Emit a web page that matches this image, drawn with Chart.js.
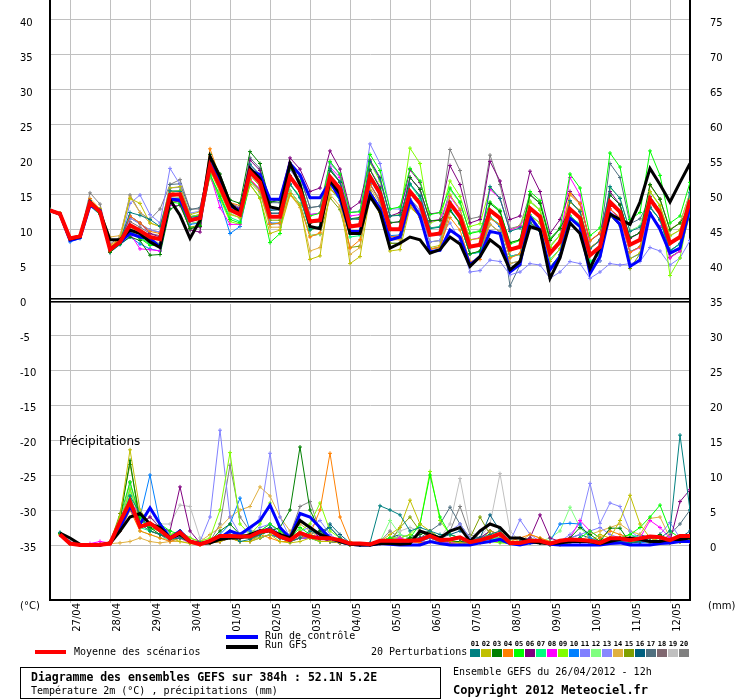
<!DOCTYPE html>
<html><head><meta charset="utf-8">
<script src="https://cdn.jsdelivr.net/npm/chart.js@4/dist/chart.umd.min.js"></script>
<style>html,body{margin:0;padding:0;background:#fff;}#wrap{position:relative;width:740px;height:700px;}canvas{display:block;}</style>
</head><body><div id="wrap"><canvas id="c" width="740" height="700"></canvas></div>
<script>
// ---------- DATA ----------
const HOURS = [0,6,12,18,24,30,36,42,48,54,60,66,72,78,84,90,96,102,108,114,120,126,132,138,144,150,156,162,168,174,180,186,192,198,204,210,216,222,228,234,240,246,252,258,264,270,276,282,288,294,300,306,312,318,324,330,336,342,348,354,360,366,372,378,384];
const DATE_TICK_HOURS = [12,36,60,84,108,132,156,180,204,228,252,276,300,324,348,372];
const DATE_LABELS = ['27/04','28/04','29/04','30/04','01/05','02/05','03/05','04/05','05/05','06/05','07/05','08/05','09/05','10/05','11/05','12/05'];
const TEMP_TICKS = [-35,-30,-25,-20,-15,-10,-5,0,5,10,15,20,25,30,35,40];
const MM_TICKS = [0,5,10,15,20,25,30,35,40,45,50,55,60,65,70,75];
const PERT_NAMES = ['01','02','03','04','05','06','07','08','09','10','11','12','13','14','15','16','17','18','19','20'];
const PERT_COLORS = ['#008080','#c0c000','#008000','#ff8000','#00ff00','#800080','#00ff80','#ff00ff','#80ff00','#0080ff','#8080ff','#80ff80','#8888ff','#e0b040','#80a000','#006080','#507080','#806870','#c0c0c0','#808080'];

// Temperature 2m (°C), every 6 h from 26/04 12h
const T_MEAN = [12.8,12.3,8.8,9.1, 13.9,12.6,7.2,8.3, 10.7,9.9,9.0,8.7, 15.0,15.1,11.4,11.7, 19.2,16.2,12.9,12.2, 18.3,16.8,11.9,11.9, 17.6,15.7,11.2,11.4, 17.6,15.9,10.5,10.7, 17.6,15.2,10.1,10.1, 15.5,13.8,9.3,9.5, 13.8,11.9,7.6,7.9, 12.8,11.7,7.2,7.6, 13.1,11.9,6.7,8.3, 13.0,11.7,6.4,7.6, 14.0,12.6,7.9,8.6, 14.4,12.4,8.1,9.0, 14.3];
const T_CTRL = [12.8,12.3,8.5,8.9, 13.5,12.8,7.3,8.2, 9.5,9.0,8.8,7.6, 14.4,14.3,11.3,11.8, 19.5,17.0,13.5,12.7, 18.5,17.9,14.4,14.4, 19.5,17.9,14.6,14.6, 16.9,14.5,9.8,9.8, 15.2,13.1,8.6,9.0, 14.3,12.0,6.9,7.1, 10.0,9.0,5.0,6.2, 9.8,9.5,4.0,5.1, 11.9,10.0,4.3,6.2, 11.7,10.5,3.8,6.2, 12.4,10.8,4.8,5.7, 12.4,10.1,6.7,7.4, 13.3];
const T_GFS = [12.8,12.3,8.7,9.0, 14.0,12.5,8.6,8.6, 10.0,9.5,8.3,7.5, 14.3,12.1,8.8,11.4, 20.5,17.6,13.8,12.4, 18.8,17.3,13.3,13.0, 19.5,16.5,10.5,10.2, 17.1,15.2,9.5,9.5, 14.8,12.6,7.4,8.1, 9.0,8.6,6.7,7.2, 9.0,8.0,4.8,6.2, 8.6,7.5,4.3,5.5, 10.5,10.0,3.1,6.0, 11.0,9.5,4.5,7.5, 12.3,11.5,10.8,14.0, 18.8,16.5,14.0,16.8, 19.5];
const T_P01 = [12.9,12.3,8.7,9.1, 14.2,12.8,7.4,8.5, 12.5,12.1,11.5,10.5, 15.6,15.5,11.8,12.0, 19.8,16.6,13.3,12.6, 19.4,17.9,12.8,12.9, 16.5,14.6,10.0,10.5, 18.8,16.9,11.6,11.5, 19.8,17.3,12.0,12.1, 16.6,14.9,10.2,10.4, 14.0,12.0,7.5,7.8, 16.2,14.5,9.8,10.3, 11.0,9.8,4.6,6.5, 14.2,12.6,7.3,8.5, 16.2,14.5,9.8,10.4, 13.2,11.5,7.0,8.1, 15.4];
const T_P02 = [12.8,12.4,9.0,9.2, 14.0,13.0,7.6,8.7, 14.5,13.8,11.0,10.5, 16.0,16.2,12.2,12.6, 18.5,15.4,12.2,11.8, 16.5,14.5,9.5,10.0, 15.0,13.5,5.8,6.3, 15.8,14.5,5.2,6.2, 14.8,12.5,7.0,7.2, 13.2,12.0,7.5,7.8, 15.0,13.0,8.6,8.8, 12.5,11.5,7.0,7.5, 12.0,11.0,5.5,7.3, 14.0,12.8,7.5,8.5, 12.0,10.8,5.9,6.7, 15.5,13.5,9.2,10.0, 14.5];
const T_P03 = [12.9,12.2,8.8,9.0, 13.6,12.3,6.8,8.0, 9.0,8.5,6.4,6.5, 13.0,13.6,10.2,10.5, 20.8,18.0,14.3,13.8, 21.2,19.5,14.0,14.2, 17.8,15.5,11.0,11.2, 18.5,16.8,11.6,11.8, 18.6,16.0,11.0,11.2, 17.5,15.8,11.3,11.4, 12.8,11.0,6.6,7.0, 13.8,12.6,8.2,8.6, 15.0,13.8,8.5,10.2, 13.0,11.6,6.4,7.5, 15.0,13.6,8.9,9.6, 16.5,14.4,10.0,11.0, 13.3];
const T_P04 = [12.8,12.4,8.9,9.1, 14.5,13.0,7.8,8.8, 12.0,11.0,9.8,9.5, 15.5,15.0,11.2,11.6, 21.6,17.5,13.9,13.5, 17.2,15.6,10.8,11.0, 15.2,13.5,9.0,9.6, 16.0,14.5,7.4,8.6, 16.5,14.2,9.0,9.2, 13.5,12.0,7.2,7.6, 11.8,10.0,5.5,5.8, 11.6,10.8,6.0,6.6, 13.0,12.0,6.8,8.4, 15.2,13.8,8.5,9.6, 13.0,11.8,6.8,7.6, 14.6,12.8,8.0,8.8, 14.5];
const T_P05 = [12.8,12.2,8.6,9.0, 13.6,12.3,7.0,8.1, 9.5,8.8,7.8,7.8, 14.0,13.8,10.2,10.6, 18.0,14.8,11.5,11.0, 16.5,14.6,8.2,9.5, 18.8,17.0,12.0,12.4, 19.8,18.0,12.5,12.6, 20.8,18.5,13.0,13.3, 18.8,17.0,12.2,12.5, 16.0,14.0,9.5,9.8, 14.0,12.8,8.0,8.5, 15.5,14.2,8.8,10.2, 18.0,16.0,9.2,10.3, 21.0,19.0,11.5,12.5, 21.3,17.8,11.0,12.0, 16.8];
const T_P06 = [12.8,12.3,8.8,9.1, 13.8,12.6,7.4,8.3, 12.0,11.0,9.5,9.0, 14.3,14.0,10.0,9.7, 20.2,17.2,13.8,13.0, 20.0,18.5,14.0,14.5, 20.3,18.7,15.5,16.0, 21.3,18.7,13.0,14.0, 20.0,17.5,12.0,12.5, 18.6,16.8,12.3,12.5, 19.2,16.5,11.0,11.5, 19.8,17.0,11.5,12.0, 18.4,15.5,9.5,11.5, 15.5,13.8,8.5,9.5, 15.5,13.6,8.8,9.6, 14.8,12.8,8.2,9.0, 13.2];
const T_P07 = [12.7,12.3,8.8,9.0, 13.5,12.2,6.9,8.0, 9.8,9.0,8.0,7.6, 14.8,15.0,11.5,11.8, 17.8,15.0,11.8,11.2, 17.0,15.5,10.8,11.0, 16.5,14.8,10.2,10.5, 16.0,14.2,9.0,9.2, 17.2,15.0,10.0,10.2, 16.5,14.5,10.2,10.5, 12.8,11.0,6.6,6.9, 11.8,10.8,6.2,6.5, 12.2,11.0,5.8,7.3, 12.0,10.8,5.5,6.6, 14.0,12.5,7.8,8.6, 13.2,11.5,7.0,8.0, 13.2];
const T_P08 = [12.8,12.3,8.8,9.1, 13.8,12.6,7.0,8.2, 9.5,7.3,7.2,7.0, 13.5,13.5,10.2,10.4, 18.0,13.2,10.8,10.8, 17.3,15.8,10.9,10.9, 18.8,16.8,12.2,12.4, 19.0,17.5,12.0,12.2, 18.6,16.2,11.0,11.2, 17.5,15.8,11.2,11.5, 14.8,12.8,8.6,8.9, 15.8,14.5,10.0,10.5, 13.1,12.0,6.8,8.5, 17.5,15.0,7.5,8.4, 13.0,11.5,6.8,7.5, 12.4,10.5,6.0,7.0, 14.0];
const T_P09 = [12.9,12.3,8.8,9.2, 14.1,12.9,7.5,8.6, 10.5,9.5,8.5,8.0, 15.5,15.6,11.9,12.2, 17.5,14.5,11.2,10.8, 18.3,16.8,11.9,11.9, 16.5,14.8,10.0,10.4, 17.6,15.9,10.5,10.8, 19.6,17.0,12.0,12.2, 21.7,19.5,11.0,11.5, 17.0,14.8,10.5,10.9, 16.0,14.5,10.0,10.6, 14.0,12.8,7.5,9.3, 12.0,10.8,5.5,6.6, 14.0,12.6,7.9,8.6, 15.5,13.5,3.5,6.0, 13.3];
const T_P10 = [12.6,12.1,8.3,8.8, 13.4,12.2,6.8,7.9, 9.0,8.0,7.3,7.0, 14.5,14.0,10.8,11.0, 18.0,14.2,9.5,10.5, 17.0,15.8,11.0,11.0, 17.6,15.7,11.0,11.4, 17.6,15.8,10.5,10.7, 16.6,14.0,9.2,9.3, 15.5,13.8,9.3,9.5, 13.0,11.0,6.6,6.8, 11.8,10.5,6.2,6.5, 13.0,12.0,6.6,8.3, 12.0,10.8,5.4,6.5, 12.0,10.8,5.9,6.6, 13.2,11.5,7.0,8.0, 12.3];
const T_P11 = [12.8,12.3,8.6,9.0, 13.8,12.8,7.0,8.0, 13.8,15.0,12.2,11.0, 18.8,16.5,11.5,12.2, 20.0,16.5,13.0,12.5, 18.3,16.8,11.9,12.0, 17.6,15.7,11.2,11.4, 19.6,17.9,12.5,12.7, 22.3,19.5,13.0,13.0, 17.5,15.8,9.3,9.3, 11.0,8.5,4.0,4.2, 5.7,5.5,3.6,4.0, 5.2,5.0,3.1,4.0, 5.5,5.2,3.1,4.0, 5.2,5.0,5.2,5.5, 7.5,7.0,5.0,6.0, 8.5];
const T_P12 = [12.8,12.2,8.8,9.0, 13.7,12.4,7.0,8.1, 10.7,9.9,9.0,8.7, 14.5,14.6,10.9,11.2, 18.7,15.7,12.4,11.7, 17.3,15.8,10.9,10.9, 15.6,13.7,9.2,9.4, 17.6,15.9,10.5,10.7, 18.6,16.2,11.1,11.1, 15.5,13.8,9.3,9.5, 15.8,13.9,9.6,9.9, 13.8,12.7,8.2,8.6, 14.1,12.9,7.7,9.3, 13.0,11.7,6.4,7.6, 16.0,14.6,9.9,10.6, 15.4,13.4,9.1,10.0, 15.3];
const T_P13 = [12.8,12.4,8.9,9.2, 14.1,12.8,7.4,8.5, 11.7,10.9,10.0,9.7, 16.0,16.1,12.4,12.7, 19.7,16.7,13.4,12.7, 19.3,17.8,12.9,12.9, 18.6,16.7,12.2,12.4, 17.6,15.9,10.5,10.7, 16.6,14.2,9.1,9.1, 14.5,12.8,8.3,8.5, 13.8,11.9,7.6,7.9, 11.8,10.7,6.2,6.6, 13.1,11.9,6.7,8.3, 11.0,9.7,4.4,5.6, 15.0,13.6,8.9,9.6, 14.4,12.4,8.1,9.0, 15.3];
const T_P14 = [12.8,12.4,8.9,9.3, 14.2,13.0,9.0,9.2, 14.7,12.5,11.0,10.5, 15.0,15.2,11.5,11.5, 18.7,15.7,12.4,11.7, 16.8,15.3,10.4,10.4, 15.1,13.2,7.0,7.5, 15.1,13.4,6.5,7.5, 16.1,13.7,8.6,8.6, 13.5,11.8,7.3,7.5, 12.8,10.9,6.6,6.9, 10.8,9.7,5.2,5.6, 14.1,12.9,7.7,9.3, 15.0,13.7,8.4,9.6, 14.0,12.6,7.9,8.6, 16.4,14.4,10.1,11.0, 15.3];
const T_P15 = [12.8,12.2,8.7,9.0, 13.7,12.4,7.0,8.1, 9.7,8.9,8.0,7.7, 14.0,14.1,10.4,10.7, 19.2,16.2,12.9,12.2, 17.8,16.3,11.4,11.4, 15.6,13.7,9.2,9.4, 14.6,12.9,7.5,7.7, 15.6,13.2,8.1,8.1, 14.5,12.8,8.3,8.5, 12.8,10.9,6.6,6.9, 11.8,10.7,6.2,6.6, 11.1,9.9,4.7,6.3, 12.0,10.7,5.4,6.6, 12.0,10.6,4.5,6.6, 12.4,10.4,6.1,7.0, 12.3];
const T_P16 = [12.8,12.3,8.8,9.1, 13.9,12.6,7.2,8.3, 10.7,9.9,9.0,8.7, 15.5,15.6,11.9,12.2, 19.2,16.2,12.9,12.2, 18.8,17.3,12.4,12.4, 16.6,14.7,10.2,10.4, 16.6,14.9,9.5,9.7, 15.6,13.2,8.1,8.1, 13.5,11.8,7.3,7.5, 12.8,10.9,6.6,6.9, 10.8,9.7,5.2,5.6, 11.1,9.9,4.7,6.3, 11.0,9.7,4.4,5.6, 13.0,11.6,6.9,7.6, 12.4,10.4,6.1,7.0, 14.3];
const T_P17 = [12.8,12.4,8.9,9.2, 14.1,12.8,7.4,8.5, 11.7,10.9,10.0,9.7, 16.5,16.6,12.9,13.2, 19.7,16.7,13.4,12.7, 20.3,18.8,13.9,13.9, 19.6,17.7,13.2,13.4, 18.6,16.9,11.5,11.7, 17.6,15.2,10.1,10.1, 16.5,14.8,10.3,10.5, 15.8,13.9,9.6,9.9, 12.8,11.7,2.0,5.0, 14.1,12.9,7.7,9.3, 14.0,12.7,7.4,8.6, 19.5,17.5,10.9,11.6, 14.4,12.4,8.1,9.0, 15.3];
const T_P18 = [12.8,12.2,8.8,9.0, 13.6,12.3,6.9,8.0, 11.2,10.4,9.5,9.2, 14.5,14.6,10.9,11.2, 19.2,16.2,12.9,12.2, 18.8,17.3,12.4,12.4, 15.6,13.7,9.2,9.4, 17.6,15.9,10.5,10.7, 16.6,14.2,9.1,9.1, 13.5,11.8,7.3,7.5, 12.8,10.9,6.6,6.9, 11.8,10.7,6.2,6.6, 11.1,9.9,4.7,6.3, 12.0,10.7,5.4,6.6, 14.0,12.6,7.9,8.6, 13.4,11.4,7.1,8.0, 14.3];
const T_P19 = [12.8,12.3,8.8,9.1, 14.2,12.9,7.5,8.6, 10.2,9.4,8.5,8.2, 15.0,15.1,11.4,11.7, 19.7,16.7,13.4,12.7, 19.3,17.8,12.9,12.9, 18.6,16.7,12.2,12.4, 17.6,15.9,10.5,10.7, 17.6,15.2,10.1,10.1, 14.5,12.8,8.3,8.5, 13.8,11.9,7.6,7.9, 11.8,10.7,6.2,6.6, 13.1,11.9,6.7,8.3, 13.0,11.7,6.4,7.6, 15.0,13.6,8.9,9.6, 14.4,12.4,8.1,9.0, 14.3];
const T_P20 = [12.9,12.4,8.9,9.2, 15.3,13.7,8.0,9.0, 15.0,12.5,11.5,13.0, 16.5,17.2,13.0,13.0, 20.2,17.2,13.9,13.2, 19.3,17.8,12.9,12.9, 19.6,17.7,13.2,13.4, 19.6,17.9,12.5,12.7, 18.6,16.2,11.1,11.1, 17.5,15.8,11.3,11.5, 21.5,18.5,11.6,11.9, 20.7,16.5,10.2,10.6, 15.1,13.9,8.7,10.3, 14.0,12.7,7.4,8.6, 14.0,12.6,7.9,8.6, 16.4,14.4,10.1,11.0, 15.3];

// Precipitation (mm per 6 h), from 26/04 18h
const P_MEAN = [1.5,0.2,0,0,0.05,0.2,3.3,6.2,2.6,3.1, 2.1,0.95,1.8,0.5,0.1,0.6,1.3,1.3,1.2,1.2, 1.9,2.1,1.2,0.7,1.7,1.2,0.95,0.95,0.7,0.2, 0.2,0.1,0.6,0.6,0.6,0.6,0.7,1.3,0.7,0.8, 1.1,0.4,0.7,1.1,1.6,0.3,0.3,0.6,0.6,0.2, 0.6,0.8,0.7,0.6,0.3,0.95,0.95,0.7,0.95,1.2, 1.1,0.7,1.3,1.3];
const P_CTRL = [1.5,0.3,0,0,0,0.3,2.5,5.5,3,5.3, 3,1,2,0.5,0.2,0.5,1.0,2.0,1.5,2.5, 3.5,5.7,2.5,1.0,4.5,4.0,2.5,1.0,0.5,0.1, 0,0,0.2,0.1,0,0,0,0.5,0.2,0, 0,0,0.3,0.5,0.8,0.2,0,0.3,0.5,0.1, 0,0,0,0,0,0.2,0.3,0,0,0, 0.2,0.3,0.5,0.5];
const P_GFS = [1.7,1.0,0.1,0,0,0.2,2.0,4.0,4.5,3.0, 2.5,1.0,1.5,0.5,0.2,0.3,0.8,1.0,1.0,1.5, 2.0,2.0,1.5,1.0,3.5,2.5,1.5,1.0,0.5,0.1, 0,0,0.2,0.2,0.1,0.2,2.0,1.5,1.0,2.0, 2.5,0.5,2.0,3.0,2.5,1.0,1.0,0.5,0.3,0.2, 0.3,0.5,0.5,0.5,0.2,0.5,0.8,1.0,0.8,0.5, 0.5,0.8,0.8,1.0];
const P_P01 = [1.8,0.3,0,0,0,0.3,3.0,7.0,4.5,2.0, 1.5,0.8,1.0,0.5,0.3,0.5,1.0,1.5,0.5,0.8, 1.5,2.5,1.0,0.5,1.0,2.0,1.5,2.5,1.0,0.3, 0,0.3,5.6,5.0,4.3,2.0,2.5,2.0,1.5,1.5, 1.0,0.5,1.0,1.5,2.0,0.3,0.5,0.5,0.3,0, 0.2,0.5,1.0,0.5,0.3,0.5,0.5,0.3,0.5,1.0, 1.0,2.0,15.7,5.0];
const P_P02 = [1.5,0.2,0,0,0,0.5,4.0,13.6,5.0,3.0, 2.0,1.0,0.5,0.2,0,0.3,0.5,1.0,0.5,0.5, 1.0,1.5,0.5,0.3,0.5,1.0,0.5,0.5,0.3,0, 0,0,0.5,1.5,2.5,6.4,3.0,2.0,1.0,0.5, 0.3,0.3,0.5,2.0,1.5,0.5,0.3,0.5,0.3,0, 0,0.3,0.5,0.5,1.5,1.0,3.5,7.1,3.0,1.0, 0.5,0.3,0.5,1.0];
const P_P03 = [1.6,0.2,0,0,0,0.3,3.5,12.1,3.0,2.5, 1.5,1.0,2.0,0.5,0.2,0.5,2.0,3.0,1.5,1.0, 1.5,2.0,2.5,5.0,14.0,5.0,2.0,1.0,0.5,0.1, 0,0,0.3,0.5,0.5,1.0,1.5,2.0,1.0,0.5, 0.5,0.3,0.5,1.0,1.5,0.5,0.3,0.5,0.8,0.3, 0.5,1.0,2.5,1.5,0.5,2.4,2.4,0.3,0.5,1.0, 1.5,0.5,1.0,1.0];
const P_P04 = [1.5,0.2,0,0,0,0.2,2.0,5.0,2.0,1.5, 1.0,0.5,1.0,0.5,0.2,0.3,0.5,1.0,0.5,0.5, 1.5,1.0,0.5,0.5,1.0,1.5,5.0,13.1,4.0,0.5, 0.1,0,0.2,0.3,0.5,0.5,0.3,0.5,0.3,0.2, 0.3,0.1,0.3,0.5,1.0,0.5,1.0,1.5,1.0,0.5, 0.3,0.5,0.5,0.3,1.0,2.0,1.5,1.0,0.5,1.0, 0.5,0.3,0.5,0.5];
const P_P05 = [1.6,0.3,0,0,0,0.3,4.0,9.0,4.0,2.0, 3.0,2.0,1.5,0.5,0.3,0.5,1.0,2.0,1.5,1.5, 2.0,3.0,2.0,1.0,2.5,1.5,1.0,1.0,0.5,0.2, 0,0,0.5,1.0,0.5,1.0,3.0,10.0,4.0,1.5, 1.0,0.5,0.5,1.0,0.5,0.2,0.3,0.5,0.5,0.3, 0.5,0.5,1.0,2.0,1.0,0.5,1.0,1.5,2.5,4.0, 5.7,2.0,1.0,1.0];
const P_P06 = [1.5,0.3,0,0,0.1,0.2,2.0,6.0,3.0,4.0, 2.5,2.0,8.3,2.0,0.3,0.3,0.5,1.0,1.0,1.5, 2.0,2.5,1.5,1.0,3.5,2.5,1.0,0.5,0.3,0.1, 0,0,0.3,0.5,0.3,0.5,1.0,1.5,1.0,0.5, 0.5,0.3,1.0,2.0,1.5,0.5,0.5,1.0,4.3,1.0, 0.5,0.5,1.0,0.5,0.5,0.5,0.5,0.3,0.5,0.5, 0.5,0.5,6.2,7.9];
const P_P07 = [1.7,0.3,0,0,0,0.3,3.0,7.0,2.5,2.0, 3.0,1.0,1.5,0.3,0.1,0.3,1.0,2.0,1.0,1.0, 1.5,2.0,1.0,0.5,1.5,1.0,0.5,0.5,0.3,0, 0,0,0.5,1.0,0.5,0.5,1.0,1.5,0.5,0.5, 1.0,0.5,0.5,1.0,1.0,0.3,0.2,0.3,0.5,0.5, 0.3,0.5,0.5,0.3,0.3,0.5,1.0,1.5,1.0,0.5, 1.0,0.5,0.5,1.0];
const P_P08 = [1.5,0.2,0,0.2,0.5,0.3,2.5,6.0,4.5,3.0, 2.0,1.0,1.0,0.3,0.2,0.5,1.0,1.5,1.0,1.0, 1.5,2.0,1.0,0.5,1.0,1.0,1.5,1.0,0.3,0, 0,0,0.3,0.5,1.0,0.5,0.3,0.5,0.3,0.3, 0.5,0.2,0.5,0.5,0.5,0.2,0.3,0.5,0.3,0.2, 0.5,1.0,3.5,2.0,1.0,0.5,0.5,0.5,1.0,3.5, 2.5,1.0,0.5,0.5];
const P_P09 = [1.6,0.3,0,0,0,0.3,3.0,8.0,3.5,2.5, 2.0,1.5,2.0,1.0,0.5,1.0,5.0,13.2,3.0,1.5, 3.0,6.0,2.0,1.0,2.0,3.0,6.0,2.0,1.0,0.3, 0,0,0.5,1.0,1.0,1.5,3.0,10.5,3.5,1.5, 1.0,0.5,0.5,0.5,0.3,0.2,0.3,0.5,0.5,0.3, 0.5,0.5,0.5,0.5,0.3,0.5,0.5,0.5,0.5,0.5, 0.5,0.5,0.5,1.0];
const P_P10 = [1.5,0.2,0,0,0,0.2,2.0,5.0,4.0,10.0, 3.0,1.5,1.0,0.5,0.3,0.5,1.5,3.0,6.7,2.0, 1.0,1.5,1.0,0.5,1.0,1.0,0.5,0.5,0.3,0, 0,0,0.2,0.3,0.5,0.5,0.5,1.0,0.5,0.3, 0.5,0.3,0.5,0.8,0.5,0.3,0.2,0.3,0.5,0.5, 3.0,3.1,3.0,1.0,0.5,0.3,0.5,0.3,0.3,0.5, 0.5,0.3,0.5,0.5];
const P_P11 = [1.5,0.2,0,0,0,0.3,2.5,6.0,3.0,2.5, 2.0,1.0,1.5,0.5,0.5,4.0,16.4,4.0,1.5,1.0, 2.5,3.0,1.5,0.5,1.5,1.0,1.0,0.5,0.5,0.2, 0,0,0.3,0.5,0.5,1.0,1.5,2.0,0.5,0.5, 0.5,0.3,0.5,1.0,1.5,0.5,3.6,1.5,0.5,0.3, 0.5,1.0,1.5,2.0,2.5,1.5,1.0,1.0,0.5,1.0, 1.5,3.2,1.0,0.5];
const P_P12 = [1.6,0.2,0,0,0,0.3,3.0,7.5,2.0,1.5, 1.0,0.8,1.0,0.3,0.2,0.3,1.0,1.5,1.0,1.0, 1.0,2.5,1.0,0.5,1.5,1.0,0.5,0.5,0.3,0.1, 0,0,0.5,3.5,1.5,1.0,1.0,1.0,0.5,0.5, 0.5,0.3,0.5,1.0,1.0,0.5,0.5,1.0,0.5,1.0, 2.0,5.4,2.5,1.0,0.5,0.5,0.5,0.5,0.5,0.5, 0.5,0.3,0.5,0.5];
const P_P13 = [1.5,0.2,0,0,0,0.3,3.0,8.0,3.5,3.0, 2.5,1.5,1.0,0.5,0.3,0.5,1.0,1.5,1.5,2.0, 4.0,13.1,4.0,1.0,2.0,2.5,3.5,1.5,0.5,0.2, 0,0,0.5,1.0,0.5,0.5,0.5,0.5,1.0,2.0, 3.0,1.0,0.5,1.0,1.0,0.5,0.3,0.5,0.5,0.3, 0.5,1.5,3.0,8.8,3.1,6.0,5.5,2.0,1.0,1.0, 1.5,0.5,0.5,1.0];
const P_P14 = [1.4,0.2,0,0,0,0.2,0.3,0.5,1.0,0.5, 0.3,0.5,0.5,0.3,0.5,1.5,2.5,4.0,5.0,5.5, 8.3,7.0,4.0,2.0,3.0,2.0,1.0,0.5,0.5,0.2, 0,0,0.3,0.5,0.5,1.0,0.5,0.5,0.5,0.5, 0.5,0.3,0.5,1.5,2.0,1.0,0.5,1.5,1.0,0.5, 0.3,0.5,0.5,1.5,2.0,2.5,3.0,2.0,1.5,3.8, 4.0,1.0,0.5,0.5];
const P_P15 = [1.6,0.3,0,0,0,0.3,4.5,11.5,4.0,2.0, 1.5,1.0,1.5,0.5,0.2,0.3,1.0,1.5,1.0,1.0, 1.0,1.5,1.0,0.5,1.0,1.0,0.5,0.5,0.3,0, 0,0,0.3,0.5,2.5,4.0,2.0,1.0,0.5,0.5, 0.5,1.0,4.0,1.5,1.0,0.5,0.5,0.5,0.5,0.3, 0.5,0.5,0.5,0.3,0.5,0.5,0.5,0.5,0.5,0.3, 0.5,0.5,0.5,0.5];
const P_P16 = [1.6,0.2,0,0,0,0.3,3.0,7.0,3.0,2.5, 2.0,1.0,1.0,0.5,0.2,0.5,1.0,1.5,1.0,1.0, 2.0,2.5,1.5,1.0,1.5,1.5,1.0,3.0,1.5,0.3, 0,0,0.5,1.0,1.5,1.0,1.0,1.0,1.0,1.5, 2.0,1.0,1.0,4.3,2.0,0.5,0.5,0.5,0.3,0.3, 0.5,1.0,1.5,1.0,0.5,0.5,1.0,1.0,1.5,1.0, 0.5,0.5,1.0,2.0];
const P_P17 = [1.5,0.2,0,0,0,0.3,2.5,6.0,3.0,2.0, 1.5,1.0,1.0,0.5,0.2,0.5,1.0,2.0,1.5,1.0, 1.5,2.5,1.5,1.0,1.5,1.5,2.0,2.5,1.0,0.2, 0,0,0.5,1.0,1.0,1.5,1.0,2.0,3.0,5.4, 3.0,1.0,1.0,2.0,1.5,0.5,0.5,1.0,0.5,0.3, 0.5,0.5,0.5,0.5,0.5,1.0,1.0,0.5,0.5,0.5, 0.5,1.5,3.0,5.0];
const P_P18 = [1.5,0.2,0,0,0,0.3,2.5,6.5,3.0,2.0, 1.5,0.5,1.0,0.3,0.2,0.3,0.5,1.0,0.5,0.5, 1.0,1.5,1.0,0.5,1.0,1.0,0.5,0.5,0.3,0, 0,0,0.2,0.3,0.5,0.5,0.5,0.5,0.3,0.3, 0.5,0.3,0.5,0.5,0.5,0.3,0.3,0.5,0.3,0.2, 0.3,0.5,0.5,0.3,0.3,0.5,0.5,0.3,0.5,0.5, 0.5,0.5,0.5,0.5];
const P_P19 = [1.6,0.3,0,0,0,0.3,2.5,8.8,3.0,4.0, 3.0,3.0,5.7,5.5,1.0,0.5,1.0,2.0,1.5,1.0, 1.5,2.0,1.0,0.5,1.0,1.5,1.0,1.0,0.5,0.2, 0,0,0.5,1.0,2.0,2.5,2.0,1.5,1.0,3.0, 9.5,2.0,1.0,3.0,10.2,2.0,0.5,0.5,0.3,0.3, 0.5,0.5,0.5,0.5,0.5,0.5,0.5,1.0,0.5,0.5, 0.5,0.5,0.5,0.5];
const P_P20 = [1.7,0.3,0,0,0,0.3,3.0,9.0,3.5,3.0, 2.0,1.0,2.0,1.0,0.5,0.5,3.0,11.4,4.0,2.0, 2.0,3.0,2.0,1.5,5.5,6.2,2.0,1.0,0.5,0.2, 0,0,0.5,2.0,1.0,0.5,0.5,1.0,0.5,2.0, 5.5,1.5,1.0,1.0,1.0,0.5,0.5,0.5,0.3,0.2, 0.3,0.5,0.5,0.3,0.3,0.5,0.5,0.5,0.5,0.5, 0.5,0.5,0.5,0.5];

const T_PERTS = [T_P01,T_P02,T_P03,T_P04,T_P05,T_P06,T_P07,T_P08,T_P09,T_P10,T_P11,T_P12,T_P13,T_P14,T_P15,T_P16,T_P17,T_P18,T_P19,T_P20];
const P_PERTS = [P_P01,P_P02,P_P03,P_P04,P_P05,P_P06,P_P07,P_P08,P_P09,P_P10,P_P11,P_P12,P_P13,P_P14,P_P15,P_P16,P_P17,P_P18,P_P19,P_P20];

// ---------- CHART ----------
const T_MIN = -300/7, T_MAX = 300/7;   // left axis (°C)
const MM_SHIFT = 35;                     // right axis (mm) = °C + 35
const P_HOURS = HOURS.slice(1);
const pts = (hrs, vals) => vals.map((v, k) => ({x: hrs[k], y: v}));

const datasets = [];
function addMain(vals, hrs, axis, color, w, ord) {
  datasets.push({data: pts(hrs, vals), yAxisID: axis, borderColor: color, backgroundColor: color,
    borderWidth: w, pointRadius: 0, fill: false, tension: 0, order: ord});
}
addMain(T_MEAN, HOURS, 'y', '#ff0000', 4, 0);
addMain(P_MEAN, P_HOURS, 'y2', '#ff0000', 4, 0);
addMain(T_GFS, HOURS, 'y', '#000000', 3, 1);
addMain(P_GFS, P_HOURS, 'y2', '#000000', 3, 1);
addMain(T_CTRL, HOURS, 'y', '#0000ff', 3, 2);
addMain(P_CTRL, P_HOURS, 'y2', '#0000ff', 3, 2);
T_PERTS.forEach((vals, k) => {
  const c = PERT_COLORS[k];
  [[vals, HOURS, 'y'], [P_PERTS[k], P_HOURS, 'y2']].forEach(([v, h, ax]) => {
    datasets.push({data: pts(h, v), yAxisID: ax, borderColor: c, backgroundColor: c, borderWidth: 1,
      pointStyle: 'cross', pointRadius: 2, pointBorderWidth: 1, pointBorderColor: c,
      fill: false, tension: 0, order: 3 + k});
  });
});

const tickFont = {family: 'DejaVu Sans', size: 10};
const extras = {
  id: 'extras',
  beforeDatasetsDraw(chart) {
    const {ctx, chartArea: a, scales: {y}} = chart;
    const p = Math.round(y.getPixelForValue(0));
    ctx.save();
    ctx.fillStyle = '#fff';
    ctx.fillRect(a.left + 1, p - 3, a.right - a.left - 2, 7);
    ctx.fillStyle = '#000';
    ctx.fillRect(a.left, p - 2, a.right - a.left, 1.6);
    ctx.fillRect(a.left, p + 1, a.right - a.left, 1.6);
    ctx.restore();
  },
  afterDraw(chart) {
    const ctx = chart.ctx;
    ctx.save();
    ctx.fillStyle = '#000';
    ctx.textBaseline = 'middle';
    ctx.textAlign = 'left';
    ctx.font = '10px DejaVu Sans';
    ctx.fillText('(°C)', 20, 606);
    ctx.fillText('(mm)', 708, 606);
    ctx.font = '12px DejaVu Sans';
    ctx.fillText('Précipitations', 59, 442);
    // legend lines
    const seg = (x1, x2, yy, col) => { ctx.strokeStyle = col; ctx.lineWidth = 4; ctx.beginPath(); ctx.moveTo(x1, yy); ctx.lineTo(x2, yy); ctx.stroke(); };
    seg(226, 258, 637, '#0000ff');
    seg(226, 258, 647, '#000000');
    seg(35, 66, 652, '#ff0000');
    ctx.font = '10px DejaVu Sans Mono';
    ctx.fillText('Run de contrôle', 265, 636);
    ctx.fillText('Run GFS', 265, 645.5);
    ctx.fillText('Moyenne des scénarios', 74, 652.5);
    ctx.fillText('20 Perturbations', 371, 652);
    ctx.font = 'bold 7px DejaVu Sans Mono';
    ctx.textAlign = 'center';
    PERT_COLORS.forEach((c, k) => {
      ctx.fillStyle = c;
      ctx.fillRect(470 + 11 * k, 649, 10, 8);
      ctx.fillStyle = '#000';
      ctx.fillText(PERT_NAMES[k], 475 + 11 * k, 644.5);
    });
    ctx.textAlign = 'left';
    ctx.strokeStyle = '#000'; ctx.lineWidth = 1;
    ctx.strokeRect(20.5, 667.5, 420, 31);
    ctx.font = 'bold 11.5px DejaVu Sans Mono';
    ctx.fillText('Diagramme des ensembles GEFS sur 384h : 52.1N 5.2E', 31, 678);
    ctx.font = '10px DejaVu Sans Mono';
    ctx.fillText('Température 2m (°C) , précipitations (mm)', 31, 691.5);
    ctx.fillText('Ensemble GEFS du 26/04/2012 - 12h', 453, 672);
    ctx.font = 'bold 12px DejaVu Sans Mono';
    ctx.fillText('Copyright 2012 Meteociel.fr', 453, 690.5);
    ctx.restore();
  }
};

new Chart(document.getElementById('c'), {
  type: 'line',
  data: {datasets},
  plugins: [extras],
  options: {
    responsive: false, animation: false, devicePixelRatio: 1,
    layout: {autoPadding: false, padding: {left: 20, right: 0, top: 0, bottom: 60}},
    plugins: {legend: {display: false}, tooltip: {enabled: false}},
    scales: {
      x: {
        type: 'linear', min: 0, max: 384, position: 'bottom',
        afterBuildTicks: s => { s.ticks = DATE_TICK_HOURS.map(v => ({value: v})); },
        afterFit: s => { s.height = 40; s.paddingLeft = 0; s.paddingRight = 0; },
        grid: {color: '#c0c0c0', lineWidth: 1, drawTicks: true, tickLength: 3, tickColor: '#c0c0c0'},
        border: {display: true, color: '#000', width: 2},
        ticks: {autoSkip: false, minRotation: 90, maxRotation: 90, padding: 0, labelOffset: 7,
          color: '#000', font: tickFont, callback: (v, i) => DATE_LABELS[i]}
      },
      y: {
        type: 'linear', position: 'left', min: T_MIN, max: T_MAX,
        afterBuildTicks: s => { s.ticks = TEMP_TICKS.map(v => ({value: v})); },
        afterFit: s => { s.width = 30; s.paddingTop = 0; s.paddingBottom = 0; },
        grid: {color: c => (c.tick && c.tick.value === 0) ? 'rgba(0,0,0,0)' : '#c0c0c0', lineWidth: 1, drawTicks: false},
        border: {display: true, color: '#000', width: 2},
        ticks: {autoSkip: false, crossAlign: 'far', padding: 0, labelOffset: 3, color: '#000', font: tickFont}
      },
      y2: {
        type: 'linear', position: 'right', min: T_MIN + MM_SHIFT, max: T_MAX + MM_SHIFT,
        afterBuildTicks: s => { s.ticks = MM_TICKS.map(v => ({value: v})); },
        afterFit: s => { s.width = 50; s.paddingTop = 0; s.paddingBottom = 0; },
        grid: {drawOnChartArea: false, drawTicks: false},
        border: {display: true, color: '#000', width: 2},
        ticks: {autoSkip: false, padding: 20, labelOffset: 3, color: '#000', font: tickFont}
      }
    }
  }
});
</script></body></html>
